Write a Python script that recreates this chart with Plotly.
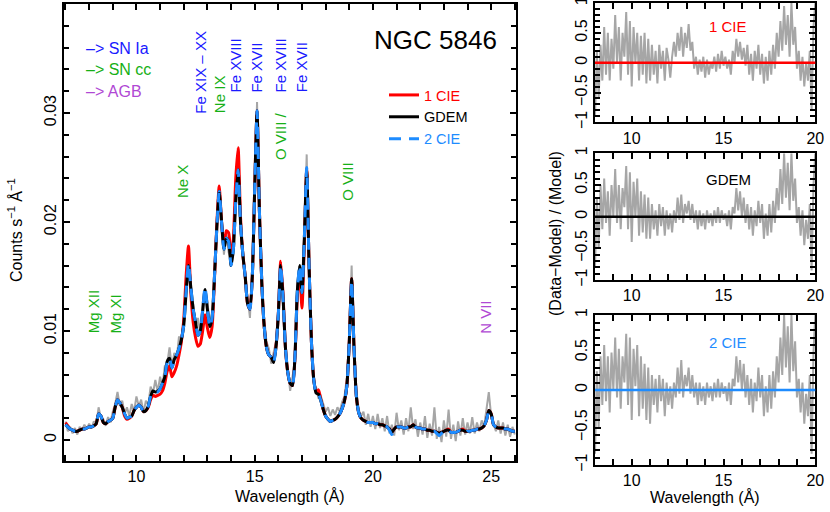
import numpy as np
import plotly.graph_objects as go

# ---------------- data ----------------
wave = np.round(np.arange(7.0, 26.0001, 0.1), 2)          # main-panel wavelength grid (Å)
wave_res = np.round(np.arange(8.0, 20.0001, 0.1), 2)      # residual wavelength grid (Å)

counts_data = [
    0.0017, 0.0008, 0.0012, 0.0006, 0.0011, 0.0005, 0.0012, 0.0009, 0.0014, 0.0010,
    0.0015, 0.0011, 0.0017, 0.0014, 0.0030, 0.0020, 0.0019, 0.0013, 0.0021, 0.0016,
    0.0026, 0.0033, 0.0044, 0.0031, 0.0036, 0.0024, 0.0030, 0.0022, 0.0033, 0.0026,
    0.0040, 0.0031, 0.0037, 0.0025, 0.0036, 0.0032, 0.0049, 0.0043, 0.0055, 0.0044,
    0.0058, 0.0049, 0.0068, 0.0070, 0.0085, 0.0066, 0.0080, 0.0074, 0.0095, 0.0088,
    0.0110, 0.0150, 0.0168, 0.0132, 0.0125, 0.0104, 0.0112, 0.0098, 0.0126, 0.0136,
    0.0128, 0.0105, 0.0118, 0.0145, 0.0200, 0.0218, 0.0205, 0.0170, 0.0190, 0.0172,
    0.0165, 0.0180, 0.0212, 0.0240, 0.0195, 0.0178, 0.0145, 0.0132, 0.0112, 0.0160,
    0.0225, 0.0310, 0.0215, 0.0140, 0.0112, 0.0090, 0.0084, 0.0070, 0.0080, 0.0090,
    0.0120, 0.0155, 0.0140, 0.0080, 0.0066, 0.0045, 0.0058, 0.0072, 0.0145, 0.0150,
    0.0140, 0.0190, 0.0262, 0.0150, 0.0098, 0.0052, 0.0048, 0.0038, 0.0040, 0.0033,
    0.0026, 0.0030, 0.0022, 0.0028, 0.0023, 0.0030, 0.0026, 0.0035, 0.0040, 0.0058,
    0.0095, 0.0160, 0.0080, 0.0045, 0.0028, 0.0022, 0.0026, 0.0014, 0.0024, 0.0012,
    0.0022, 0.0010, 0.0024, 0.0011, 0.0020, 0.0008, 0.0022, 0.0006, 0.0014, 0.0004,
    0.0025, 0.0009, 0.0018, 0.0005, 0.0020, 0.0008, 0.0030, 0.0010, 0.0019, 0.0003,
    0.0016, 0.0005, 0.0022, 0.0002, 0.0015, 0.0004, 0.0030, 0.0001, 0.0012, -0.0002,
    0.0018, 0.0003, 0.0028, 0.0001, 0.0014, -0.0001, 0.0017, 0.0004, 0.0020, 0.0005,
    0.0016, 0.0006, 0.0021, 0.0006, 0.0016, 0.0008, 0.0018, 0.0012, 0.0030, 0.0044,
    0.0022, 0.0016, 0.0008, 0.0018, 0.0006, 0.0016, 0.0004, 0.0014, 0.0003, 0.0012,
    0.0005,
]

model_gdem = [
    0.0014, 0.0012, 0.0010, 0.0009, 0.0008, 0.0008, 0.0009, 0.0010, 0.0010, 0.0011,
    0.0012, 0.0012, 0.0013, 0.0015, 0.0024, 0.0022, 0.0016, 0.0015, 0.0017, 0.0018,
    0.0020, 0.0030, 0.0037, 0.0034, 0.0030, 0.0024, 0.0020, 0.0021, 0.0022, 0.0027,
    0.0030, 0.0032, 0.0030, 0.0026, 0.0027, 0.0031, 0.0040, 0.0045, 0.0044, 0.0045,
    0.0047, 0.0052, 0.0058, 0.0072, 0.0075, 0.0066, 0.0074, 0.0078, 0.0084, 0.0092,
    0.0105, 0.0135, 0.0160, 0.0140, 0.0120, 0.0108, 0.0096, 0.0100, 0.0118, 0.0138,
    0.0120, 0.0104, 0.0112, 0.0150, 0.0195, 0.0228, 0.0200, 0.0175, 0.0185, 0.0182,
    0.0160, 0.0175, 0.0220, 0.0248, 0.0200, 0.0170, 0.0150, 0.0125, 0.0120, 0.0150,
    0.0230, 0.0302, 0.0210, 0.0145, 0.0105, 0.0085, 0.0078, 0.0076, 0.0071, 0.0085,
    0.0115, 0.0160, 0.0130, 0.0085, 0.0062, 0.0052, 0.0050, 0.0075, 0.0135, 0.0160,
    0.0135, 0.0185, 0.0248, 0.0160, 0.0090, 0.0055, 0.0043, 0.0042, 0.0036, 0.0028,
    0.0022, 0.0019, 0.0017, 0.0018, 0.0019, 0.0021, 0.0024, 0.0029, 0.0036, 0.0050,
    0.0090, 0.0148, 0.0085, 0.0040, 0.0025, 0.0020, 0.0018, 0.0017, 0.0016, 0.0016,
    0.0016, 0.0015, 0.0015, 0.0014, 0.0014, 0.0013, 0.0012, 0.0010, 0.0007, 0.0010,
    0.0012, 0.0012, 0.0012, 0.0011, 0.0011, 0.0012, 0.0012, 0.0014, 0.0012, 0.0011,
    0.0011, 0.0010, 0.0010, 0.0009, 0.0009, 0.0008, 0.0008, 0.0007, 0.0006, 0.0007,
    0.0008, 0.0009, 0.0009, 0.0007, 0.0007, 0.0007, 0.0008, 0.0009, 0.0009, 0.0008,
    0.0008, 0.0008, 0.0009, 0.0009, 0.0010, 0.0010, 0.0011, 0.0013, 0.0018, 0.0027,
    0.0024, 0.0014, 0.0012, 0.0011, 0.0011, 0.0011, 0.0010, 0.0010, 0.0009, 0.0008,
    0.0008,
]

model_1cie = [
    0.0016, 0.0013, 0.0010, 0.0009, 0.0008, 0.0008, 0.0009, 0.0010, 0.0010, 0.0011,
    0.0012, 0.0012, 0.0013, 0.0015, 0.0024, 0.0022, 0.0016, 0.0015, 0.0017, 0.0018,
    0.0020, 0.0030, 0.0037, 0.0034, 0.0030, 0.0022, 0.0019, 0.0020, 0.0022, 0.0027,
    0.0030, 0.0032, 0.0030, 0.0026, 0.0027, 0.0030, 0.0037, 0.0041, 0.0040, 0.0041,
    0.0042, 0.0045, 0.0052, 0.0063, 0.0068, 0.0058, 0.0062, 0.0068, 0.0078, 0.0090,
    0.0110, 0.0150, 0.0178, 0.0135, 0.0108, 0.0094, 0.0086, 0.0088, 0.0100, 0.0115,
    0.0103, 0.0094, 0.0104, 0.0148, 0.0198, 0.0233, 0.0200, 0.0178, 0.0192, 0.0190,
    0.0165, 0.0185, 0.0240, 0.0268, 0.0205, 0.0170, 0.0150, 0.0125, 0.0120, 0.0150,
    0.0230, 0.0302, 0.0210, 0.0145, 0.0105, 0.0085, 0.0078, 0.0076, 0.0072, 0.0086,
    0.0116, 0.0164, 0.0133, 0.0085, 0.0062, 0.0052, 0.0050, 0.0074, 0.0130, 0.0155,
    0.0121, 0.0180, 0.0249, 0.0160, 0.0090, 0.0055, 0.0044, 0.0046, 0.0037, 0.0028,
    0.0022, 0.0019, 0.0017, 0.0018, 0.0019, 0.0021, 0.0024, 0.0029, 0.0036, 0.0050,
    0.0090, 0.0148, 0.0085, 0.0040, 0.0025, 0.0020, 0.0018, 0.0017, 0.0016, 0.0016,
    0.0016, 0.0015, 0.0015, 0.0014, 0.0014, 0.0013, 0.0012, 0.0010, 0.0007, 0.0010,
    0.0012, 0.0012, 0.0012, 0.0011, 0.0011, 0.0012, 0.0012, 0.0014, 0.0012, 0.0011,
    0.0011, 0.0010, 0.0010, 0.0009, 0.0009, 0.0008, 0.0008, 0.0007, 0.0006, 0.0007,
    0.0008, 0.0009, 0.0010, 0.0007, 0.0007, 0.0007, 0.0008, 0.0009, 0.0010, 0.0008,
    0.0008, 0.0008, 0.0009, 0.0009, 0.0010, 0.0010, 0.0011, 0.0013, 0.0018, 0.0027,
    0.0024, 0.0014, 0.0012, 0.0011, 0.0011, 0.0011, 0.0010, 0.0010, 0.0009, 0.0008,
    0.0008,
]

model_2cie = [
    0.0014, 0.0012, 0.0010, 0.0009, 0.0008, 0.0008, 0.0009, 0.0010, 0.0010, 0.0011,
    0.0012, 0.0012, 0.0013, 0.0015, 0.0024, 0.0022, 0.0016, 0.0015, 0.0017, 0.0018,
    0.0020, 0.0030, 0.0037, 0.0034, 0.0030, 0.0024, 0.0020, 0.0021, 0.0022, 0.0027,
    0.0030, 0.0032, 0.0030, 0.0026, 0.0027, 0.0031, 0.0040, 0.0044, 0.0044, 0.0044,
    0.0047, 0.0052, 0.0058, 0.0071, 0.0075, 0.0066, 0.0074, 0.0078, 0.0084, 0.0092,
    0.0105, 0.0136, 0.0162, 0.0140, 0.0120, 0.0108, 0.0096, 0.0100, 0.0119, 0.0140,
    0.0121, 0.0104, 0.0112, 0.0150, 0.0195, 0.0228, 0.0200, 0.0175, 0.0185, 0.0182,
    0.0160, 0.0175, 0.0220, 0.0248, 0.0200, 0.0170, 0.0150, 0.0125, 0.0120, 0.0150,
    0.0230, 0.0302, 0.0210, 0.0145, 0.0105, 0.0085, 0.0078, 0.0076, 0.0071, 0.0085,
    0.0115, 0.0160, 0.0130, 0.0085, 0.0062, 0.0052, 0.0050, 0.0075, 0.0135, 0.0160,
    0.0135, 0.0185, 0.0250, 0.0160, 0.0090, 0.0055, 0.0043, 0.0042, 0.0036, 0.0028,
    0.0022, 0.0019, 0.0017, 0.0018, 0.0019, 0.0021, 0.0024, 0.0029, 0.0036, 0.0050,
    0.0090, 0.0146, 0.0085, 0.0040, 0.0025, 0.0020, 0.0018, 0.0017, 0.0016, 0.0016,
    0.0016, 0.0015, 0.0015, 0.0014, 0.0014, 0.0013, 0.0012, 0.0009, 0.0005, 0.0010,
    0.0012, 0.0012, 0.0012, 0.0011, 0.0011, 0.0012, 0.0012, 0.0014, 0.0012, 0.0011,
    0.0011, 0.0010, 0.0010, 0.0009, 0.0009, 0.0008, 0.0008, 0.0006, 0.0004, 0.0006,
    0.0008, 0.0009, 0.0009, 0.0007, 0.0007, 0.0007, 0.0008, 0.0009, 0.0008, 0.0006,
    0.0008, 0.0008, 0.0009, 0.0009, 0.0010, 0.0010, 0.0011, 0.0013, 0.0018, 0.0026,
    0.0024, 0.0014, 0.0012, 0.0011, 0.0011, 0.0011, 0.0010, 0.0010, 0.0009, 0.0008,
    0.0008,
]

resid_1cie = [
    -0.90, 0.20, -0.60, 0.30, -0.30, 0.60, -0.20, 0.50, -0.30, 0.40,
    -0.10, 0.80, 0.00, 0.60, -0.30, 0.50, 0.10, 0.85, -0.20, 0.70,
    -0.40, 0.60, 0.00, 0.50, -0.30, 0.45, -0.20, 0.50, -0.35, 0.40,
    -0.30, 0.30, -0.20, 0.20, -0.35, 0.30, -0.10, 0.20, -0.30, 0.25,
    0.05, -0.25, 0.10, 0.35, 0.10, 0.50, 0.20, 0.60, 0.10, 0.50,
    0.25, 0.65, 0.20, 0.35, -0.10, 0.10, -0.20, 0.05, -0.15, 0.10,
    -0.25, 0.05, -0.20, 0.00, -0.10, 0.10, -0.15, 0.15, -0.10, 0.20,
    -0.05, 0.10, -0.10, 0.05, -0.20, 0.20, 0.00, 0.40, 0.10, 0.35,
    0.05, 0.25, -0.05, 0.30, -0.20, 0.15, -0.30, 0.20, -0.10, 0.30,
    -0.20, 0.15, -0.35, 0.10, -0.30, 0.20, -0.20, 0.30, -0.10, 0.50,
    0.10, 0.70, 0.20, 0.95, 0.30, 0.80, 0.10, 1.00, 0.30, 0.60,
    -0.10, 0.20, -0.30, 0.10, -0.40, 0.00, -0.30, 0.20, -0.80, 0.60,
    1.00,
]

resid_gdem = [
    -0.80, 0.30, -0.50, 0.50, -0.20, 0.60, -0.10, 0.40, -0.30, 0.50,
    0.00, 0.75, -0.10, 0.50, -0.20, 0.45, 0.15, 0.80, -0.20, 0.70,
    -0.40, 0.55, 0.00, 0.60, -0.30, 0.40, -0.25, 0.35, -0.35, 0.30,
    -0.35, 0.20, -0.20, 0.10, -0.30, 0.20, -0.15, 0.15, -0.30, 0.10,
    -0.20, 0.05, -0.25, 0.10, -0.10, 0.30, -0.05, 0.35, -0.10, 0.20,
    0.05, 0.25, -0.05, 0.20, -0.10, 0.10, -0.20, 0.10, -0.15, 0.05,
    -0.20, 0.10, -0.10, 0.05, -0.15, 0.10, -0.10, 0.15, -0.10, 0.10,
    -0.05, 0.05, -0.15, 0.10, -0.20, 0.15, 0.05, 0.45, 0.10, 0.40,
    0.00, 0.30, -0.10, 0.20, -0.20, 0.15, -0.30, 0.10, -0.15, 0.25,
    -0.10, 0.20, -0.35, 0.05, -0.30, 0.20, -0.25, 0.25, -0.10, 0.45,
    0.10, 0.75, 0.20, 1.00, 0.30, 0.85, 0.10, 1.00, 0.25, 0.60,
    -0.10, 0.15, -0.30, 0.10, -0.45, -0.05, -0.35, 0.20, -0.85, 0.50,
    1.00,
]

resid_2cie = [
    -0.85, 0.25, -0.50, 0.45, -0.20, 0.60, -0.15, 0.45, -0.30, 0.50,
    0.00, 0.70, -0.10, 0.55, -0.25, 0.45, 0.10, 0.75, -0.20, 0.70,
    -0.40, 0.55, 0.05, 0.60, -0.35, 0.45, -0.25, 0.35, -0.40, 0.30,
    -0.45, 0.20, -0.20, 0.15, -0.30, 0.20, -0.15, 0.15, -0.35, 0.10,
    -0.20, 0.05, -0.25, 0.10, -0.10, 0.30, -0.05, 0.40, -0.10, 0.20,
    0.05, 0.30, -0.05, 0.20, -0.10, 0.10, -0.20, 0.10, -0.15, 0.05,
    -0.20, 0.10, -0.10, 0.05, -0.15, 0.10, -0.10, 0.15, -0.10, 0.10,
    -0.05, 0.05, -0.15, 0.10, -0.20, 0.15, 0.05, 0.45, 0.10, 0.40,
    0.00, 0.35, -0.10, 0.20, -0.20, 0.15, -0.30, 0.10, -0.15, 0.30,
    -0.10, 0.20, -0.35, 0.05, -0.30, 0.20, -0.25, 0.25, -0.10, 0.45,
    0.10, 0.70, 0.20, 1.00, 0.30, 0.85, 0.10, 1.00, 0.25, 0.65,
    -0.10, 0.15, -0.30, 0.10, -0.45, -0.05, -0.35, 0.20, -0.85, 0.50,
    1.00,
]

# line identifications: label, wavelength, y (bottom of text), colour key
line_labels = ["Fe XIX \u2013 XX", "Ne IX", "Fe XVIII", "Fe XVII", "Fe XVIII", "O VIII /",
               "Fe XVII", "Ne X", "O VIII", "Mg XII", "Mg XI", "N VII"]
line_waves = [12.73, 13.49, 14.17, 15.06, 16.07, 16.07, 16.99, 11.94, 18.92, 8.22, 9.12, 24.78]
line_ybase = [0.0298, 0.0298, 0.0317, 0.0317, 0.0317, 0.0255, 0.0317, 0.0220, 0.0218,
              0.0096, 0.0096, 0.0096]
line_kind = ["Ia", "cc", "Ia", "Ia", "Ia", "cc", "Ia", "cc", "cc", "cc", "cc", "AGB"]

origin_labels = ["\u2013> SN Ia", "\u2013> SN cc", "\u2013> AGB"]
origin_keys = ["Ia", "cc", "AGB"]

model_names = ["1 CIE", "GDEM", "2 CIE"]

# ---------------- styles ----------------
C_IA = "#1a1aff"
C_CC = "#16b016"
C_AGB = "#b048d4"
kind_color = {"Ia": C_IA, "cc": C_CC, "AGB": C_AGB}
RED = "#ff0000"
BLACK = "#000000"
BLUE = "#1e8cff"
GRAY = "#a6a6a6"
FONT = "Liberation Sans"

fig = go.Figure()

# main panel
fig.add_trace(go.Scatter(x=wave, y=counts_data, mode="lines", line=dict(color=GRAY, width=2),
                         showlegend=False, xaxis="x", yaxis="y"))
fig.add_trace(go.Scatter(x=wave, y=model_1cie, mode="lines", line=dict(color=RED, width=3, shape="spline", smoothing=0.6),
                         name=f"<span style='color:{RED}'>{model_names[0]}</span>", xaxis="x", yaxis="y"))
fig.add_trace(go.Scatter(x=wave, y=model_gdem, mode="lines", line=dict(color=BLACK, width=3, shape="spline", smoothing=0.6),
                         name=f"<span style='color:{BLACK}'>{model_names[1]}</span>", xaxis="x", yaxis="y"))
fig.add_trace(go.Scatter(x=wave, y=model_2cie, mode="lines",
                         line=dict(color=BLUE, width=3, dash="12px,8px", shape="spline", smoothing=0.6),
                         name=f"<span style='color:{BLUE}'>{model_names[2]}</span>", xaxis="x", yaxis="y"))

# residual panels
res_sets = [(resid_1cie, "x2", "y2", RED, model_names[0]),
            (resid_gdem, "x3", "y3", BLACK, model_names[1]),
            (resid_2cie, "x4", "y4", BLUE, model_names[2])]
for vals, xa, ya, col, nm in res_sets:
    fig.add_trace(go.Scatter(x=wave_res, y=vals, mode="lines", line=dict(color=GRAY, width=2),
                             showlegend=False, xaxis=xa, yaxis=ya))

# domains (paper fractions)
W, H = 830, 512
main_x = [64.3 / W, 516 / W]
main_y = [1 - 460.7 / H, 1 - 4.3 / H]
res_x = [595 / W, 815.3 / W]
res_y = [[1 - 122.3 / H, 1 - 3.1 / H],
         [1 - 280 / H, 1 - 153.3 / H],
         [1 - 465 / H, 1 - 315 / H]]

tickfont = dict(family=FONT, size=16, color="black")

def xax(domain, rng, anchor):
    return dict(domain=domain, range=rng, anchor=anchor, showgrid=False, zeroline=False,
                showline=True, linewidth=2, linecolor="black", mirror="ticks",
                ticks="inside", ticklen=6, tickwidth=2, tickcolor="black",
                tick0=0, dtick=5, tickfont=tickfont, ticklabeloverflow="allow",
                minor=dict(ticks="inside", dtick=1, ticklen=6, tickwidth=2, tickcolor="black", showgrid=False))

def yax(domain, rng, anchor, dtick, mdtick):
    return dict(domain=domain, range=rng, anchor=anchor, showgrid=False, zeroline=False,
                showline=True, linewidth=2, linecolor="black", mirror="ticks",
                ticks="inside", ticklen=6, tickwidth=2, tickcolor="black",
                tick0=0, dtick=dtick, tickfont=tickfont, tickangle=-90, ticklabeloverflow="allow",
                minor=dict(ticks="inside", dtick=mdtick, ticklen=5, tickwidth=2, tickcolor="black", showgrid=False))

layout = dict(
    width=W, height=H, margin=dict(l=0, r=0, t=0, b=0),
    paper_bgcolor="white", plot_bgcolor="white", template="none",
    font=dict(family=FONT, size=15, color="black"),
    xaxis=xax(main_x, [6.95, 26.05], "y"),
    yaxis=yax(main_y, [-0.0019, 0.03997], "x", 0.01, 0.002),
    xaxis2=xax(res_x, [8, 20], "y2"),
    yaxis2=yax(res_y[0], [-1, 1.0], "x2", 0.5, 0.1),
    xaxis3=xax(res_x, [8, 20], "y3"),
    yaxis3=yax(res_y[1], [-1, 1], "x3", 0.5, 0.1),
    xaxis4=xax(res_x, [8, 20], "y4"),
    yaxis4=yax(res_y[2], [-1, 1], "x4", 0.5, 0.1),
    legend=dict(x=384 / W, y=1 - 79 / H, xanchor="left", yanchor="top",
                bgcolor="rgba(0,0,0,0)", borderwidth=0, tracegroupgap=0,
                font=dict(family=FONT, size=14.5), itemwidth=30),
    showlegend=True,
)
fig.update_layout(**layout)

# zero lines in residual panels
for (vals, xa, ya, col, nm) in res_sets:
    fig.add_shape(type="line", xref=f"{xa} domain", yref=ya, x0=0, x1=1, y0=0, y1=0,
                  line=dict(color=col, width=2.5))

ann = []
# line IDs
for lab, wl, yb, k in zip(line_labels, line_waves, line_ybase, line_kind):
    ann.append(dict(x=wl, y=yb, xref="x", yref="y", text=lab, showarrow=False, textangle=-90,
                    xanchor="center", yanchor="bottom", font=dict(family=FONT, size=15, color=kind_color[k])))
# origin key
for i, (lab, k) in enumerate(zip(origin_labels, origin_keys)):
    ann.append(dict(x=84 / W, y=1 - (48 + 21.5 * i) / H, xref="paper", yref="paper", text=lab,
                    showarrow=False, xanchor="left", yanchor="middle",
                    font=dict(family=FONT, size=16, color=kind_color[k])))
# title
ann.append(dict(x=499 / W, y=1 - 40 / H, xref="paper", yref="paper", text="NGC 5846", showarrow=False,
                xanchor="right", yanchor="middle", font=dict(family=FONT, size=26, color="black")))
# residual panel labels
for (vals, xa, ya, col, nm), yv in zip(res_sets, [0.6, 0.58, 0.63]):
    ann.append(dict(x=15.26, y=yv, xref=xa, yref=ya, text=nm, showarrow=False,
                    xanchor="center", yanchor="middle", font=dict(family=FONT, size=15, color=col)))
# axis titles
ann.append(dict(x=(64.3 + 516) / 2 / W, y=1 - 496 / H, xref="paper", yref="paper", text="Wavelength (\u00c5)",
                showarrow=False, xanchor="center", yanchor="middle", font=dict(family=FONT, size=16)))
ann.append(dict(x=(595 + 815.3) / 2 / W, y=1 - 497 / H, xref="paper", yref="paper", text="Wavelength (\u00c5)",
                showarrow=False, xanchor="center", yanchor="middle", font=dict(family=FONT, size=16)))
ann.append(dict(x=15 / W, y=1 - 230 / H, xref="paper", yref="paper",
                text="Counts s<sup>\u22121</sup> \u00c5<sup>\u22121</sup>", textangle=-90,
                showarrow=False, xanchor="center", yanchor="middle", font=dict(family=FONT, size=16)))
ann.append(dict(x=555 / W, y=1 - 234 / H, xref="paper", yref="paper",
                text="(Data\u2212Model) / (Model)", textangle=-90,
                showarrow=False, xanchor="center", yanchor="middle", font=dict(family=FONT, size=16)))
fig.update_layout(annotations=ann)

fig.write_html("out.html", config={"displayModeBar": False},
               post_script="document.body.style.margin='0';document.body.style.padding='0';")
